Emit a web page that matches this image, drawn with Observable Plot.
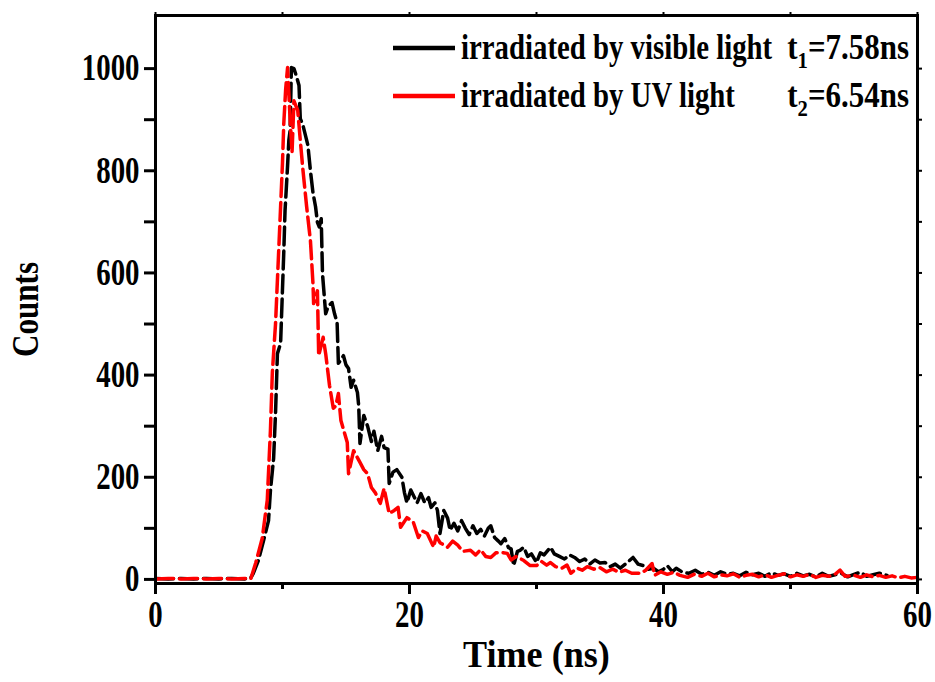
<!DOCTYPE html>
<html><head><meta charset="utf-8">
<script src="https://cdn.jsdelivr.net/npm/d3@7"></script>
<script src="https://cdn.jsdelivr.net/npm/@observablehq/plot@0.6"></script>
<style>body{margin:0;background:#fff}</style>
</head><body><div id="chart"></div>
<script>
// Time (ns) and counts
const visibleTime = [0,1,2,3,4,5,6,7,7.5,7.7,8.1,8.5,8.9,9.05,9.3,9.45,9.6,9.85,10.1,10.2,10.4,10.5,10.6,10.7,10.9,11.1,11.3,11.4,11.6,12.0,12.2,12.4,12.6,12.75,12.9,13.05,13.15,13.4,13.6,13.9,14.1,14.3,14.4,14.6,14.8,15.0,15.2,15.4,15.6,15.9,16.0,16.1,16.4,16.7,17.0,17.2,17.5,17.8,18.0,18.3,18.4,18.7,19.0,19.4,19.6,19.8,20.1,20.4,20.6,20.9,21.2,21.5,21.7,22.0,22.2,22.4,22.7,23.0,23.2,23.5,23.8,24.1,24.4,24.7,25.0,25.3,25.6,25.9,26.2,26.4,26.7,27.0,27.2,27.5,27.8,28.0,28.2,28.5,28.7,29.0,29.3,29.6,30.0,30.3,30.6,31.1,31.4,31.8,32.2,32.6,33.0,33.4,33.8,34.2,34.6,35.0,35.4,35.8,36.2,36.6,37.0,37.6,38.0,38.4,38.8,39.2,39.6,40.0,40.3,40.7,41.0,41.5,42.0,42.5,43.0,43.5,44.0,44.5,45.0,45.5,46.0,46.5,47.0,47.5,48.0,48.5,49.0,49.5,50.0,50.5,51.0,51.5,52.0,52.5,53.0,53.5,54.0,54.5,55.0,55.5,56.0,56.5,57.0,57.6];
const visibleCounts = [2,1,2,1,2,1,2,1,3,12,37,75,115,174,237,325,442,462,640,722,810,860,879,1002,1000,985,967,902,890,850,800,757,730,699,690,706,598,520,535,542,520,503,423,430,438,420,413,376,390,366,340,266,321,300,270,290,252,280,258,255,188,210,215,200,170,150,175,160,150,168,150,160,141,150,135,90,135,120,96,110,95,115,100,88,105,90,98,85,100,105,82,75,70,80,62,60,27,55,57,63,45,50,33,52,48,63,50,45,40,48,43,35,40,30,38,32,33,25,30,22,30,43,30,27,20,22,15,20,27,15,22,14,12,18,10,14,8,15,10,12,7,14,9,12,6,13,8,11,6,12,7,10,5,12,6,9,12,5,10,14,6,9,12,8];
const uvTime = [0,1,2,3,4,5,6,7,7.5,7.9,8.4,8.8,9.05,9.2,9.45,9.7,10.0,10.1,10.25,10.4,10.6,10.75,10.9,11.2,11.4,11.6,11.9,12.2,12.4,12.45,12.75,12.85,13.2,13.4,13.7,14.0,14.2,14.4,14.6,14.9,15.1,15.2,15.6,16.1,16.4,16.7,17.0,17.3,17.7,18.0,18.4,18.8,19.1,19.3,19.8,20.3,20.7,21.0,21.4,21.9,22.1,22.4,23.0,23.4,23.8,24.2,24.8,25.2,25.6,26.0,26.4,26.8,27.2,27.7,28.0,28.4,29.0,29.5,30.0,30.4,30.8,31.1,31.5,32.0,32.4,32.7,33.2,33.6,34.0,34.5,35.0,35.5,36.0,36.5,37.0,37.5,38.2,38.6,39.1,39.3,39.8,40.3,40.8,41.3,41.9,42.4,43.0,43.5,44.0,44.5,45.0,45.5,46.0,46.5,47.0,47.5,48.0,48.5,49.0,49.5,50.0,50.5,51.0,51.5,52.0,52.5,53.0,53.5,53.9,54.3,55.0,55.5,56.0,56.5,57.0,57.5,58.0,58.5,59.0,59.5,60.0];
const uvCounts = [1,2,1,2,1,2,1,2,1,33,80,155,292,405,500,643,816,892,960,1002,900,835,937,918,860,804,730,663,579,540,565,438,474,442,380,335,340,364,311,285,268,207,252,229,215,207,180,170,149,178,129,135,141,102,121,112,82,95,90,63,85,72,63,75,67,55,57,48,58,45,43,52,53,51,38,45,37,27,27,35,28,33,25,22,28,12,22,18,25,20,23,15,20,14,18,12,12,18,31,8,15,10,14,8,4,10,6,12,5,9,7,11,4,8,10,5,9,4,8,11,5,9,6,10,4,8,6,10,18,6,8,4,9,5,8,4,7,3,6,3,4];

const seriesNames = ["irradiated by visible light", "irradiated by UV light"];
const lifetimeSymbols = ["1", "2"];
const lifetimes = ["=7.58ns", "=6.54ns"];
const seriesColors = ["#000000", "#ff0000"];

const xMajorTicks = [0, 20, 40, 60];
const xMinorTicks = [10, 30, 50];
const xTopTicks = [0, 10, 20, 30, 40, 50, 60];
const yMajorTicks = [0, 200, 400, 600, 800, 1000];
const yMinorTicks = [100, 300, 500, 700, 900];
const yRightTicks = [0, 100, 200, 300, 400, 500, 600, 700, 800, 900, 1000];

const xLabel = "Time (ns)";
const yLabel = "Counts";

const visible = visibleTime.map((t, i) => ({t, c: visibleCounts[i]}));
const uv = uvTime.map((t, i) => ({t, c: uvCounts[i]}));

const FONT = "'Liberation Serif', 'Times New Roman', serif";
const fmt = d3.format("d");

const plot = Plot.plot({
  width: 935, height: 682,
  marginLeft: 155, marginRight: 18, marginTop: 15, marginBottom: 99,
  x: {domain: [0, 60]},
  y: {domain: [-8, 1104]},
  style: {fontFamily: FONT, fontWeight: "bold", fontSize: "37px", background: "#fff", color: "#000"},
  marks: [
    Plot.line(visible, {x: "t", y: "c", stroke: seriesColors[0], strokeWidth: 3.5, strokeDasharray: "18,6", strokeLinecap: "round"}),
    Plot.line(uv, {x: "t", y: "c", stroke: seriesColors[1], strokeWidth: 3.5, strokeDasharray: "18,6", strokeLinecap: "round"}),
    Plot.frame({stroke: "#000", strokeWidth: 3}),
    Plot.axisX({ticks: xMajorTicks, tickSize: 11, tickPadding: 6, strokeWidth: 3, tickFormat: fmt, label: null, fontSize: 37}),
    Plot.axisX({ticks: xMinorTicks, tickSize: 6, strokeWidth: 3, text: null, label: null}),
    Plot.axisX({anchor: "top", ticks: xTopTicks, tickSize: 4, strokeWidth: 2, text: null, label: null}),
    Plot.axisY({ticks: yMajorTicks, tickSize: 11, tickPadding: 5, strokeWidth: 3, tickFormat: fmt, label: null, fontSize: 37}),
    Plot.axisY({ticks: yMinorTicks, tickSize: 11, strokeWidth: 3, text: null, label: null}),
    Plot.axisY({anchor: "right", ticks: yRightTicks, tickSize: 4, strokeWidth: 2, text: null, label: null}),
    Plot.text([xLabel], {text: d => d, frameAnchor: "bottom", dy: 83, fontSize: 38, fontWeight: "bold"}),
    Plot.text([yLabel], {text: d => d, frameAnchor: "left", textAnchor: "middle", dx: -130, dy: 10, rotate: -90, fontSize: 38, fontWeight: "bold"})
  ]
});
document.getElementById("chart").appendChild(plot);

const svg = d3.select(plot);
const lg = svg.append("g").attr("font-family", FONT).attr("font-weight", "bold").attr("font-size", 36);
seriesNames.forEach((name, i) => {
  const y = 48 + i * 48;
  lg.append("line").attr("x1", 393).attr("x2", 455).attr("y1", y).attr("y2", y)
    .attr("stroke", seriesColors[i]).attr("stroke-width", 4.5);
  lg.append("text").attr("data-squeeze", 0.8).attr("text-anchor", "start")
    .attr("x", 461).attr("y", y + 11).text(name);
  const t = lg.append("text").attr("data-squeeze", 0.86).attr("x", 909).attr("y", y + 11).attr("text-anchor", "end");
  t.append("tspan").text("t");
  t.append("tspan").attr("dy", 9).attr("font-size", 24).text(lifetimeSymbols[i]);
  t.append("tspan").attr("dy", -9).text(lifetimes[i]);
});

// horizontally condense text like the reference's narrow Times bold,
// keeping each text's anchor point where it was
svg.selectAll("text").each(function() {
  const txt = this.textContent;
  let k = +this.getAttribute("data-squeeze") || 0.78;
  if (txt === xLabel) k = 0.95;
  if (txt === yLabel) k = 0.82;
  const len = this.getComputedTextLength();
  if (!(len > 0)) return;
  const comp = len * k;
  const anchor = getComputedStyle(this).textAnchor;
  const x0 = this.x.baseVal.length ? this.x.baseVal[0].value : 0;
  let start = x0;
  if (anchor === "middle") start = x0 - comp / 2;
  else if (anchor === "end") start = x0 - comp;
  this.setAttribute("text-anchor", "start");
  this.setAttribute("x", start.toFixed(1));
  this.setAttribute("textLength", comp.toFixed(1));
  this.setAttribute("lengthAdjust", "spacingAndGlyphs");
});
</script>
</body></html>
